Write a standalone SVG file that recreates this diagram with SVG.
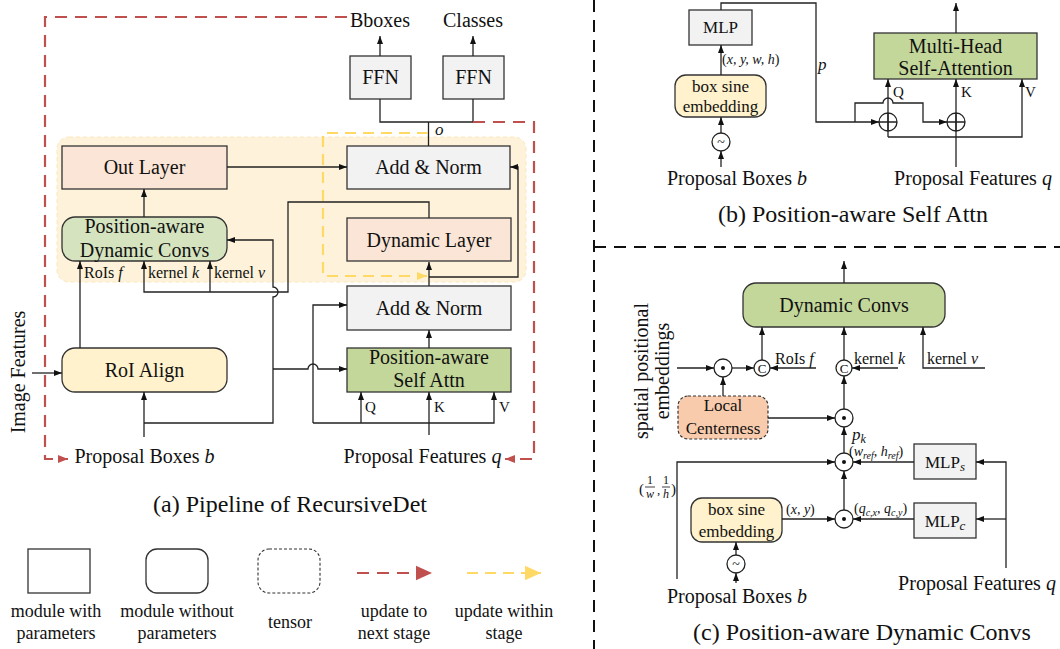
<svg xmlns="http://www.w3.org/2000/svg" width="1060" height="649" viewBox="0 0 1060 649">
<defs>
<style>
text{font-family:"Liberation Serif","Times New Roman",serif;fill:#111}
.t20{font-size:20px;text-anchor:middle}
.t17{font-size:17px;text-anchor:middle}
.t16{font-size:16px}
.lab{font-size:15px}
.cap{font-size:24px;text-anchor:middle}
.leg{font-size:18px;text-anchor:middle}
.m{font-size:14px;font-style:italic}
.it{font-style:italic}
.box{stroke:#333;stroke-width:1.3}
.gray{fill:#f2f2f2}
.peach{fill:#fbe5d6}
.green{fill:#c4d79b}
.lgreen{fill:#d5e3bf}
.yel{fill:#fff2cc}
.ln{fill:none;stroke:#222;stroke-width:1.3}
.arr{marker-end:url(#ah)}
.red{fill:none;stroke:#c0504d;stroke-width:2.2;stroke-dasharray:12 8}
.ylw{fill:none;stroke:#ffd966;stroke-width:2.2;stroke-dasharray:11 7}
.div{fill:none;stroke:#111;stroke-width:2;stroke-dasharray:12 8}
.op{fill:#fff;stroke:#222;stroke-width:1.3}
</style>
<marker id="ah" viewBox="0 0 8 6" refX="8" refY="3" markerWidth="8" markerHeight="6" markerUnits="userSpaceOnUse" orient="auto"><path d="M0,0 L8,3 L0,6 z" fill="#111"/></marker>
<marker id="ar" viewBox="0 0 10 10" refX="10" refY="5" markerWidth="10" markerHeight="10" markerUnits="userSpaceOnUse" orient="auto"><path d="M0,1 L10,5 L0,9 z" fill="#c0504d"/></marker>
<marker id="ay" viewBox="0 0 10 10" refX="10" refY="5" markerWidth="10" markerHeight="10" markerUnits="userSpaceOnUse" orient="auto"><path d="M0,1 L10,5 L0,9 z" fill="#ffd966"/></marker>
<marker id="arL" viewBox="0 0 10 10" refX="10" refY="5" markerWidth="16" markerHeight="16" markerUnits="userSpaceOnUse" orient="auto"><path d="M0,0.5 L10,5 L0,9.5 z" fill="#c0504d"/></marker>
<marker id="ayL" viewBox="0 0 10 10" refX="10" refY="5" markerWidth="16" markerHeight="16" markerUnits="userSpaceOnUse" orient="auto"><path d="M0,0.5 L10,5 L0,9.5 z" fill="#ffd966"/></marker>
</defs>
<rect width="1060" height="649" fill="#fff"/>

<!-- dividers -->
<g id="dividers">
<path class="div" d="M594,0 V649"/>
<path class="div" d="M594,247 H1060"/>
</g>

<!-- ================= panel (a) ================= -->
<g id="stage-region">
<rect x="57" y="137" width="469" height="145" rx="12" fill="#fef3da" stroke="#fbe6bd" stroke-width="1" stroke-dasharray="4 3"/>
</g>

<g id="a-labels">
<text class="t20" x="380" y="27">Bboxes</text>
<text class="t20" x="473" y="27">Classes</text>
<text class="t20" x="144.5" y="463">Proposal Boxes <tspan class="it">b</tspan></text>
<text class="t20" x="422.5" y="463">Proposal Features <tspan class="it">q</tspan></text>
<text class="t20" transform="translate(25,372) rotate(-90)">Image Features</text>
<text class="it" x="435" y="135" font-size="17">o</text>
<text class="t16" x="84" y="278">RoIs <tspan class="it">f</tspan></text>
<text class="t16" x="148" y="278">kernel <tspan class="it">k</tspan></text>
<text class="t16" x="214" y="278">kernel <tspan class="it">v</tspan></text>
<text class="lab" x="365" y="412">Q</text>
<text class="lab" x="434" y="412">K</text>
<text class="lab" x="499" y="412">V</text>
<text class="cap" x="290" y="512">(a) Pipeline of RecursiveDet</text>
</g>

<g id="ffn-bboxes"><rect class="box gray" x="350" y="56" width="61" height="43"/><text class="t20" x="380.5" y="84">FFN</text></g>
<g id="ffn-classes"><rect class="box gray" x="443" y="56" width="61" height="43"/><text class="t20" x="473.5" y="84">FFN</text></g>
<g id="add-norm-1"><rect class="box gray" x="347" y="146" width="163" height="43"/><text class="t20" x="428.5" y="174">Add &amp; Norm</text></g>
<g id="out-layer"><rect class="box peach" x="62" y="146" width="165" height="43"/><text class="t20" x="144.5" y="174">Out Layer</text></g>
<g id="pa-dynconv"><rect class="box lgreen" x="62" y="217" width="165" height="44" rx="13"/><text class="t20" x="144.5" y="233">Position-aware</text><text class="t20" x="144.5" y="257">Dynamic Convs</text></g>
<g id="dynamic-layer"><rect class="box peach" x="347" y="218" width="164" height="43"/><text class="t20" x="429" y="247">Dynamic Layer</text></g>
<g id="add-norm-2"><rect class="box gray" x="347" y="286" width="164" height="44"/><text class="t20" x="429" y="315">Add &amp; Norm</text></g>
<g id="pa-selfattn"><rect class="box green" x="347" y="348" width="164" height="44"/><text class="t20" x="429" y="364">Position-aware</text><text class="t20" x="429" y="387">Self Attn</text></g>
<g id="roi-align"><rect class="box yel" x="62" y="348" width="165" height="44" rx="13"/><text class="t20" x="144.5" y="377">RoI Align</text></g>

<g id="a-connectors">
<path class="ln arr" d="M380,56 V36"/>
<path class="ln arr" d="M473,56 V36"/>
<path class="ln" d="M380,99 V122 H473 V99"/>
<path class="ln" d="M428.5,146 V122"/>
<path class="ln arr" d="M227,167 H347"/>
<path class="ln arr" d="M144,217 V189"/>
<path class="ln arr" d="M80,348 V261"/>
<path class="ln arr" d="M429,218 V202 H288 V292 H144 V261"/>
<path class="ln arr" d="M210,292 V261"/>
<path class="ln arr" d="M429,286 V262"/>
<path class="ln arr" d="M429,277 H518 V167 H510"/>
<path class="ln arr" d="M429,348 V330"/>
<path class="ln arr" d="M144,437 V392"/>
<path class="ln arr" d="M144,423 H273 V297 a5,5 0 0 0 0,-10 V240 H227"/>
<path class="ln arr" d="M273,369 H308 a5,5 0 0 1 10,0 H347"/>
<path class="ln arr" d="M32,373 H62"/>
<path class="ln arr" d="M429,435 V392"/>
<path class="ln arr" d="M313,423 H494 V392"/>
<path class="ln arr" d="M361,423 V392"/>
<path class="ln arr" d="M313,423 V305 H347"/>
<path class="ylw" d="M428,133 H323 V276 H427" marker-end="url(#ay)"/>
<path class="red" d="M347,17 H45 V459 H68" marker-end="url(#ar)"/>
<path class="red" d="M473,122 H534 V459 H505" marker-end="url(#ar)"/>
</g>

<!-- legend -->
<g id="legend">
<rect x="28" y="549" width="62" height="44" fill="#fff" stroke="#333" stroke-width="1.3"/>
<rect x="146" y="549" width="62" height="44" rx="11" fill="#fff" stroke="#333" stroke-width="1.3"/>
<rect x="258" y="549" width="62" height="44" rx="11" fill="#fff" stroke="#333" stroke-width="1.1" stroke-dasharray="3 2"/>
<path class="red" d="M357,573 H432" marker-end="url(#arL)" stroke-dasharray="11 8"/>
<path class="ylw" d="M467,573 H541" marker-end="url(#ayL)" stroke-dasharray="11 8"/>
<text class="leg" x="56" y="617">module with</text>
<text class="leg" x="56" y="639">parameters</text>
<text class="leg" x="177" y="617">module without</text>
<text class="leg" x="177" y="639">parameters</text>
<text class="leg" x="290" y="628">tensor</text>
<text class="leg" x="394" y="617">update to</text>
<text class="leg" x="394" y="639">next stage</text>
<text class="leg" x="504" y="617">update within</text>
<text class="leg" x="504" y="639">stage</text>
</g>

<!-- ================= panel (b) ================= -->
<g id="b-mlp"><rect class="box gray" x="689" y="10" width="63" height="35"/><text class="t17" x="720.5" y="33">MLP</text></g>
<g id="b-boxsine"><rect class="box yel" x="675" y="75" width="91" height="42" rx="11"/><text class="t17" x="720.5" y="92">box sine</text><text class="t17" x="720.5" y="112">embedding</text></g>
<g id="b-sine"><circle class="op" cx="721" cy="142" r="9"/><text x="721" y="147" font-size="14" text-anchor="middle">~</text></g>
<g id="b-mhsa"><rect class="box green" x="874" y="33" width="163" height="46"/><text class="t20" x="955.5" y="53">Multi-Head</text><text class="t20" x="955.5" y="75">Self-Attention</text></g>
<g id="b-plus1"><circle class="op" cx="888" cy="122" r="9"/><path class="ln" d="M879,122 H897 M888,113 V131"/></g>
<g id="b-plus2"><circle class="op" cx="956" cy="122" r="9"/><path class="ln" d="M947,122 H965 M956,113 V131"/></g>
<g id="b-connectors">
<path class="ln arr" d="M721,75 V45"/>
<path class="ln arr" d="M721,133 V117"/>
<path class="ln arr" d="M721,167 V151"/>
<path class="ln arr" d="M721,10 V3 H816 V122 H879"/>
<path class="ln arr" d="M855,122 V103 H883 a5,5 0 0 1 10,0 H923 V122 H947"/>
<path class="ln arr" d="M888,137 V79"/>
<path class="ln arr" d="M888,137 H1022 V79"/>
<path class="ln arr" d="M956,167 V79"/>
<path class="ln arr" d="M956,33 V3"/>
</g>
<g id="b-labels">
<text class="m" x="722" y="64"><tspan font-style="normal">(</tspan>x, y, w, h<tspan font-style="normal">)</tspan></text>
<text class="it" x="818" y="70" font-size="17">p</text>
<text class="lab" x="893" y="97">Q</text>
<text class="lab" x="961" y="97">K</text>
<text class="lab" x="1025" y="97">V</text>
<text class="t20" x="737" y="185">Proposal Boxes <tspan class="it">b</tspan></text>
<text class="t20" x="973" y="185">Proposal Features <tspan class="it">q</tspan></text>
<text class="cap" x="853" y="222">(b) Position-aware Self Attn</text>
</g>

<!-- ================= panel (c) ================= -->
<g id="c-dynconv"><rect class="box green" x="743" y="283" width="202" height="44" rx="13"/><text class="t20" x="844" y="312">Dynamic Convs</text></g>
<g id="c-concat1"><circle class="op" cx="762" cy="368" r="8"/><text x="762" y="373" font-size="13" text-anchor="middle">C</text></g>
<g id="c-concat2"><circle class="op" cx="844" cy="368" r="8"/><text x="844" y="373" font-size="13" text-anchor="middle">C</text></g>
<g id="c-dot1"><circle class="op" cx="723" cy="368" r="9"/><circle cx="723" cy="368" r="2" fill="#111"/></g>
<g id="c-dot2"><circle class="op" cx="844" cy="418" r="9"/><circle cx="844" cy="418" r="2" fill="#111"/></g>
<g id="c-dot3"><circle class="op" cx="844" cy="462" r="9"/><circle cx="844" cy="462" r="2" fill="#111"/></g>
<g id="c-dot4"><circle class="op" cx="844" cy="519" r="9"/><circle cx="844" cy="519" r="2" fill="#111"/></g>
<g id="c-centerness"><rect x="678" y="396" width="90" height="43" rx="10" fill="#f8cbad" stroke="#333" stroke-width="1.2" stroke-dasharray="3 2"/><text class="t17" x="723" y="411">Local</text><text class="t17" x="723" y="434">Centerness</text></g>
<g id="c-mlps"><rect class="box gray" x="914" y="444" width="62" height="35"/><text class="t17" x="945" y="468">MLP<tspan class="it" font-size="13" dy="3">s</tspan></text></g>
<g id="c-mlpc"><rect class="box gray" x="914" y="503" width="62" height="35"/><text class="t17" x="945" y="527">MLP<tspan class="it" font-size="13" dy="3">c</tspan></text></g>
<g id="c-boxsine"><rect class="box yel" x="691" y="498" width="91" height="44" rx="11"/><text class="t17" x="736.5" y="515">box sine</text><text class="t17" x="736.5" y="537">embedding</text></g>
<g id="c-sine"><circle class="op" cx="736" cy="564" r="9"/><text x="736" y="569" font-size="14" text-anchor="middle">~</text></g>
<g id="c-connectors">
<path class="ln arr" d="M844,283 V261"/>
<path class="ln arr" d="M762,360 V327"/>
<path class="ln arr" d="M844,360 V327"/>
<path class="ln arr" d="M985,368 H923 V327"/>
<path class="ln arr" d="M816,368 H770"/>
<path class="ln arr" d="M898,368 H852"/>
<path class="ln arr" d="M677,368 H714"/>
<path class="ln arr" d="M732,368 H754"/>
<path class="ln arr" d="M723,396 V377"/>
<path class="ln arr" d="M768,418 H835"/>
<path class="ln arr" d="M844,409 V376"/>
<path class="ln arr" d="M844,453 V427"/>
<path class="ln arr" d="M677,579 V462 H835"/>
<path class="ln arr" d="M914,462 H853"/>
<path class="ln arr" d="M1006,568 V462 H976"/>
<path class="ln arr" d="M1006,519 H976"/>
<path class="ln arr" d="M914,519 H853"/>
<path class="ln arr" d="M844,510 V471"/>
<path class="ln arr" d="M782,519 H835"/>
<path class="ln arr" d="M736,555 V542"/>
<path class="ln arr" d="M736,583 V573"/>
</g>
<g id="c-labels">
<text class="t20" transform="translate(648,371) rotate(-90)">spatial positional</text>
<text class="t20" transform="translate(669,371) rotate(-90)">embeddings</text>
<text class="t16" x="775" y="364">RoIs <tspan class="it">f</tspan></text>
<text class="t16" x="854" y="364">kernel <tspan class="it">k</tspan></text>
<text class="t16" x="927" y="364">kernel <tspan class="it">v</tspan></text>
<text class="it" x="852" y="440" font-size="17">p<tspan font-size="12" dy="3">k</tspan></text>
<text class="m" x="849" y="456"><tspan font-style="normal">(</tspan>w<tspan font-size="10" dy="3">ref</tspan><tspan dy="-3">, h</tspan><tspan font-size="10" dy="3">ref</tspan><tspan font-style="normal" dy="-3">)</tspan></text>
<text class="m" x="854" y="513"><tspan font-style="normal">(</tspan>q<tspan font-size="10" dy="3">c,x</tspan><tspan dy="-3">, q</tspan><tspan font-size="10" dy="3">c,y</tspan><tspan font-style="normal" dy="-3">)</tspan></text>
<text class="m" x="786" y="514"><tspan font-style="normal">(</tspan>x, y<tspan font-style="normal">)</tspan></text>
<g id="frac">
<text x="639" y="494" font-size="15">(</text>
<text x="650" y="484" font-size="12" text-anchor="middle">1</text>
<line x1="645" y1="487" x2="655" y2="487" stroke="#111" stroke-width="0.8"/>
<text x="650" y="498" font-size="12" class="it" text-anchor="middle">w</text>
<text x="657" y="494" font-size="13">,</text>
<text x="666" y="484" font-size="12" text-anchor="middle">1</text>
<line x1="662" y1="487" x2="670" y2="487" stroke="#111" stroke-width="0.8"/>
<text x="666" y="498" font-size="12" class="it" text-anchor="middle">h</text>
<text x="671" y="494" font-size="15">)</text>
</g>
<text class="t20" x="737" y="603">Proposal Boxes <tspan class="it">b</tspan></text>
<text class="t20" x="977" y="590">Proposal Features <tspan class="it">q</tspan></text>
<text class="cap" x="862" y="640">(c) Position-aware Dynamic Convs</text>
</g>
</svg>
